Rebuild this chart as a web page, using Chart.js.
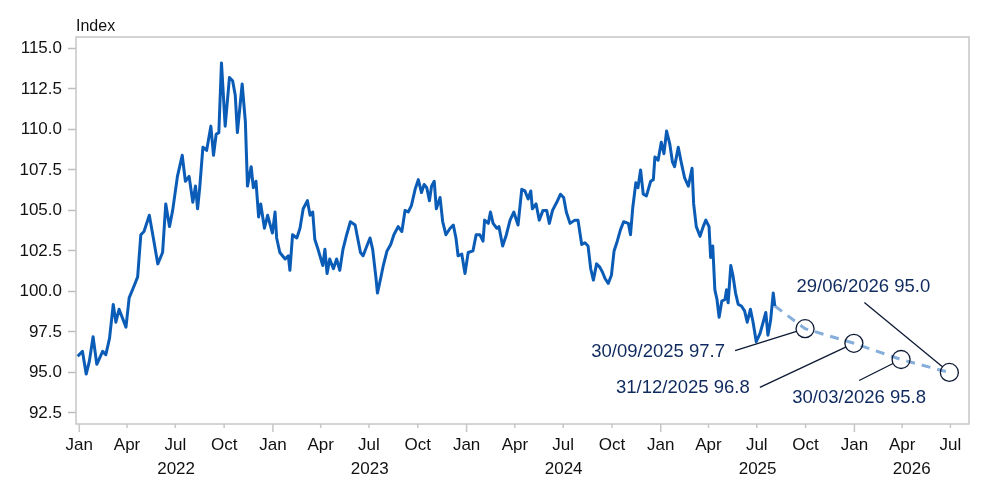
<!DOCTYPE html>
<html>
<head>
<meta charset="utf-8">
<script src="https://cdn.jsdelivr.net/npm/chart.js@4"></script>
<style>
  html, body { margin: 0; padding: 0; background: #ffffff; }
  .wrap { width: 1000px; height: 501px; position: relative; }
</style>
</head>
<body>
<div class="wrap"><canvas id="chart"></canvas></div>
<script>
// x values are days since 1 Jan 2022
const days = [
  -3, 6, 13, 19, 26, 33, 44, 50, 57, 64,
  69, 75, 88, 94, 104, 110, 116, 122, 132, 139,
  148, 157, 163, 170, 176, 185, 194, 200, 207, 214,
  219, 223, 227, 233, 240, 248, 253, 258, 263, 268,
  275, 283, 289, 294, 298, 307, 313, 317, 324, 328,
  333, 338, 342, 349, 355, 364, 369, 372, 378, 388,
  394, 397, 402, 410, 416, 422, 430, 435, 440, 444,
  450, 459, 463, 467, 472, 479, 485, 491, 497, 504,
  511, 520, 524, 530, 535, 542, 548, 553, 559, 562,
  568, 573, 580, 587, 593, 601, 608, 614, 620, 626,
  633, 639, 645, 650, 655, 660, 664, 669, 673, 680,
  685, 691, 699, 705, 710, 714, 721, 727, 733, 742,
  748, 755, 761, 764, 771, 775, 780, 787, 791, 798,
  805, 812, 819, 827, 834, 840, 846, 851, 854, 861,
  867, 874, 881, 886, 892, 900, 907, 913, 918, 925,
  934, 940, 947, 953, 959, 964, 969, 975, 981, 986,
  991, 997, 1003, 1008, 1014, 1020, 1026, 1035, 1039, 1043,
  1049, 1053, 1058, 1063, 1069, 1077, 1082, 1085, 1091, 1097,
  1102, 1107, 1113, 1118, 1122, 1129, 1135, 1141, 1148, 1155,
  1158, 1163, 1170, 1176, 1181, 1187, 1190, 1194, 1198, 1202,
  1206, 1211, 1217, 1220, 1223, 1228, 1232, 1237, 1242, 1248,
  1254, 1259, 1265, 1270, 1276, 1283, 1289, 1294, 1298, 1303,
  1308, 1311
]
const index = [
  96.0, 96.3, 94.9, 95.7, 97.2, 95.5, 96.3, 96.1, 97.1, 99.2,
  98.1, 98.9, 97.8, 99.6, 100.4, 100.9, 103.5, 103.7, 104.7, 103.4,
  101.7, 102.4, 105.4, 104.0, 105.0, 107.1, 108.4, 106.8, 107.1, 105.5,
  106.5, 105.1, 106.4, 108.9, 108.7, 110.2, 108.4, 109.7, 109.8, 114.1,
  110.2, 113.2, 113.0, 112.1, 109.8, 112.8, 110.5, 106.5, 107.7, 106.4,
  106.8, 104.6, 105.4, 103.9, 104.7, 103.6, 104.9, 103.3, 102.4, 102.0,
  102.2, 101.3, 103.5, 103.3, 103.9, 105.1, 105.6, 104.7, 104.9, 103.2,
  102.6, 101.6, 102.6, 101.1, 102.0, 101.4, 102.0, 101.3, 102.6, 103.5,
  104.3, 104.1, 103.4, 102.4, 102.2, 102.8, 103.3, 102.6, 100.9, 99.9,
  100.8, 101.6, 102.5, 102.9, 103.5, 104.0, 103.7, 105.0, 104.9, 105.3,
  106.3, 106.9, 106.1, 106.6, 106.4, 105.6, 106.5, 106.8, 105.1, 105.8,
  104.3, 103.5, 103.9, 104.1, 103.3, 102.2, 102.3, 101.1, 102.4, 102.5,
  103.5, 103.5, 103.1, 104.4, 104.2, 104.9, 104.2, 103.9, 104.0, 102.8,
  103.5, 104.4, 104.9, 104.1, 106.3, 106.2, 105.7, 106.2, 105.1, 105.4,
  104.4, 105.0, 105.0, 104.2, 105.0, 105.5, 106.0, 105.8, 104.9, 104.2,
  104.4, 104.4, 102.9, 103.0, 102.8, 101.4, 100.7, 101.7, 101.5, 101.2,
  100.8, 100.5, 101.0, 102.5, 103.1, 103.8, 104.3, 104.2, 103.5, 105.1,
  106.7, 106.4, 107.5, 106.0, 105.9, 106.8, 106.9, 108.3, 108.1, 109.2,
  108.5, 109.9, 109.1, 108.0, 107.7, 108.9, 107.9, 107.0, 106.5, 107.6,
  105.4, 104.0, 103.4, 104.0, 104.4, 104.0, 102.1, 102.8, 100.1, 99.5,
  98.4, 99.4, 99.5, 100.1, 99.3, 101.6, 101.0, 99.9, 99.2, 99.1,
  98.8, 98.1, 98.9, 98.1, 96.9, 97.4, 98.1, 98.7, 97.3, 98.2,
  99.9, 99.1
]
const forecastDates = ['2025-09-30', '2025-12-31', '2026-03-30', '2026-06-29']
const forecastValues = [97.7, 96.8, 95.8, 95.0]
const yTicks = [92.5, 95, 97.5, 100, 102.5, 105, 107.5, 110, 112.5, 115]
const quarterMonths = ['01', '04', '07', '10']
const quarterNames = ['Jan', 'Apr', 'Jul', 'Oct']
const years = [2022, 2023, 2024, 2025, 2026]

const start = Date.UTC(2022, 0, 1)
const dayOf = s => (Date.parse(s + 'T00:00:00Z') - start) / 86400000
const xMin = -6.2, xMax = 1677
const FONT = '"Liberation Sans", Arial, sans-serif'

// quarter ticks up to the axis end
const qTicks = [], qLabels = []
years.forEach(y => quarterMonths.forEach((m, i) => {
  const d = dayOf(`${y}-${m}-01`)
  if (d <= xMax) { qTicks.push(d); qLabels.push(quarterNames[i]) }
}))

const actual = days.map((d, i) => ({x: d, y: index[i]}))
const forecast = [{x: days[days.length - 1], y: index[index.length - 1]}]
  .concat(forecastDates.map((d, i) => ({x: dayOf(d), y: forecastValues[i]})))

// label offsets from each forecast circle: text centre (tx, ty), leader start (lx, ly)
const callouts = [
  {tx: -147, ty: 22, lx: -70, ly: 22},
  {tx: -171, ty: 44, lx: -94, ly: 44},
  {tx: -42, ty: 37, lx: -42, ly: 21},
  {tx: -86, ty: -87, lx: -85, ly: -70}
]
const circleR = 9

const decor = {
  id: 'decor',
  beforeDatasetsDraw(chart) {
    const {ctx, chartArea: a, scales: {x}} = chart
    ctx.save()
    ctx.strokeStyle = '#c6c6c6'
    ctx.lineWidth = 1.5
    ctx.strokeRect(a.left, a.top, a.right - a.left, a.bottom - a.top)
    // x tick marks, longer at January
    ctx.beginPath()
    qTicks.forEach((d, i) => {
      const px = x.getPixelForValue(d)
      ctx.moveTo(px, a.bottom)
      ctx.lineTo(px, a.bottom + (qLabels[i] === 'Jan' ? 8 : 4))
    })
    ctx.stroke()
    // axis title
    ctx.fillStyle = '#111111'
    ctx.font = `16px ${FONT}`
    ctx.textAlign = 'left'
    ctx.textBaseline = 'alphabetic'
    ctx.fillText('Index', a.left, 31)
    // year labels centred on the visible part of each year
    ctx.font = `17px ${FONT}`
    ctx.textAlign = 'center'
    years.forEach(y => {
      const d0 = Math.max(dayOf(`${y}-01-01`), xMin)
      const d1 = Math.min(dayOf(`${y + 1}-01-01`), xMax)
      const px = (x.getPixelForValue(d0) + x.getPixelForValue(d1)) / 2
      ctx.fillText(String(y), px, 474)
    })
    ctx.restore()
  },
  afterDatasetsDraw(chart) {
    const {ctx} = chart
    const pts = chart.getDatasetMeta(1).data
    ctx.save()
    ctx.font = `18.5px ${FONT}`
    ctx.textAlign = 'center'
    ctx.textBaseline = 'middle'
    forecastDates.forEach((d, i) => {
      const p = pts[i + 1], c = callouts[i]
      const sx = p.x + c.lx, sy = p.y + c.ly
      const dx = sx - p.x, dy = sy - p.y, len = Math.hypot(dx, dy)
      ctx.strokeStyle = '#0c1833'
      ctx.lineWidth = 1.3
      ctx.beginPath()
      ctx.moveTo(sx, sy)
      ctx.lineTo(p.x + dx / len * circleR, p.y + dy / len * circleR)
      ctx.stroke()
      ctx.fillStyle = '#0f2a5e'
      const label = d.split('-').reverse().join('/') + ' ' + forecastValues[i].toFixed(1)
      ctx.fillText(label, p.x + c.tx, p.y + c.ty + 1)
    })
    ctx.restore()
  }
}

new Chart(document.getElementById('chart'), {
  type: 'line',
  data: {
    datasets: [{
      data: actual,
      borderColor: '#0b5cb6',
      borderWidth: 3,
      borderJoinStyle: 'round',
      pointRadius: 0,
      tension: 0
    }, {
      data: forecast,
      borderColor: '#86aedb',
      borderWidth: 3,
      borderDash: [9, 7],
      pointRadius: forecast.map((p, i) => i === 0 ? 0 : circleR),
      pointBorderColor: '#0c1833',
      pointBorderWidth: 1.3,
      pointBackgroundColor: 'rgba(0,0,0,0)',
      tension: 0
    }]
  },
  options: {
    responsive: true,
    maintainAspectRatio: false,
    animation: false,
    layout: {padding: {left: 0, top: 37, right: 31, bottom: 0}},
    plugins: {legend: {display: false}, tooltip: {enabled: false}},
    scales: {
      x: {
        type: 'linear',
        min: xMin,
        max: xMax,
        afterBuildTicks: scale => { scale.ticks = qTicks.map(v => ({value: v})) },
        afterFit: scale => { scale.height = 77 },
        grid: {drawOnChartArea: false, drawTicks: false},
        border: {display: false},
        ticks: {
          autoSkip: false,
          maxRotation: 0,
          padding: 11,
          color: '#111111',
          font: {family: FONT, size: 17},
          callback: (v, i) => qLabels[i]
        }
      },
      y: {
        min: 91.82,
        max: 115.7,
        afterBuildTicks: scale => { scale.ticks = yTicks.map(v => ({value: v})) },
        afterFit: scale => { scale.width = 76 },
        grid: {drawOnChartArea: false, drawTicks: true, tickLength: 8, tickColor: '#bdbdbd', tickWidth: 1.5},
        border: {display: false},
        ticks: {
          padding: 6,
          color: '#111111',
          font: {family: FONT, size: 17},
          callback: v => Number(v).toFixed(1)
        }
      }
    }
  },
  plugins: [decor]
})
</script>
</body>
</html>
